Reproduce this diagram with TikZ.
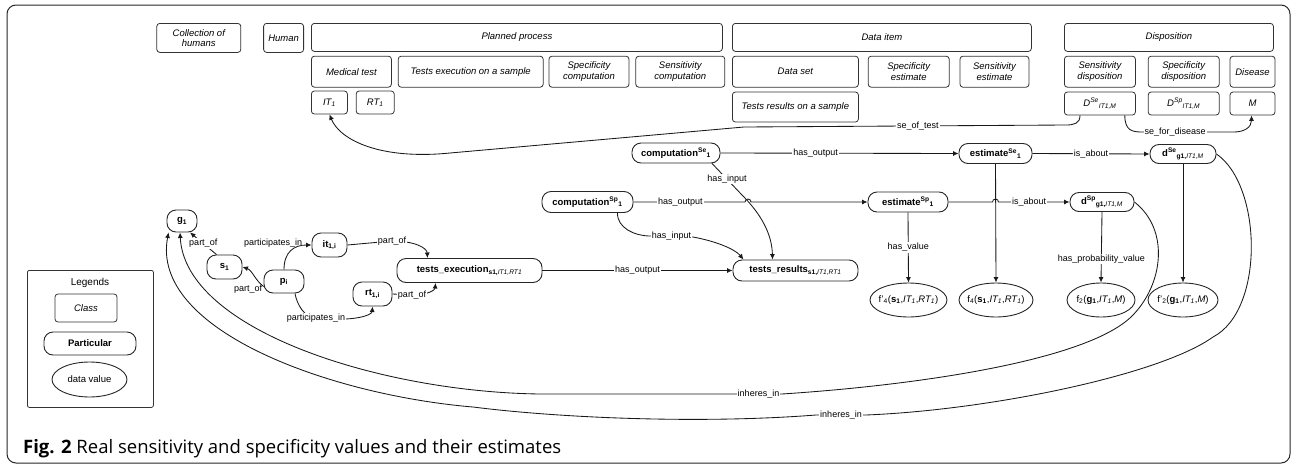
\documentclass[tikz,border=0pt]{standalone}
\usepackage{fontspec}
\setmainfont{Liberation Sans}
\newfontfamily\capfont{Open Sans}
\usepackage{tikz}
\usetikzlibrary{shapes,shapes.geometric,arrows.meta,positioning,calc}

\begin{document}
\begin{tikzpicture}[
    x=1pt, y=1pt,
    font=\fontsize{9.5}{11}\selectfont,
    >={Latex[length=5.5pt,width=5pt]},
    cls/.style={
        draw=black!80,
        rounded corners=3pt,
        minimum width=#1,
        minimum height=29pt,
        align=center,
        inner sep=1pt,
        line width=0.8pt,
        font=\fontsize{9.5}{10.5}\selectfont\itshape
    },
    part/.style={
        draw=black!85,
        rounded corners=9pt,
        minimum width=#1,
        minimum height=21pt,
        inner sep=1pt,
        line width=0.9pt,
        font=\fontsize{9.5}{11}\selectfont\bfseries
    },
    val/.style={
        draw=black!85,
        ellipse,
        minimum width=#1,
        minimum height=34pt,
        inner xsep=-8pt,
        inner ysep=0pt,
        line width=0.9pt
    },
    lbl/.style={fill=white, inner sep=1pt, font=\fontsize{9}{10}\selectfont},
    flow/.style={->, line width=0.85pt, draw=black!90}
]
\useasboundingbox (0,0) rectangle (1293,-469);
\draw[rounded corners=9pt, line width=1pt, black!85] (7,-5) rectangle (1290,-463);

%-----------------------------------
% Classes: planned process
%-----------------------------------
\node[cls=411pt, minimum height=28pt, anchor=north west] (Planned) at (311,-23) {Planned process};
\node[cls=40pt, anchor=north east] (Human) at ([xshift=-7pt]Planned.north west) {Human};
\node[cls=84pt, anchor=north east] (Collection) at ([xshift=-22pt]Human.north west) {Collection of\\humans};

\node[cls=80pt, minimum height=31pt, anchor=north west] (MedTest) at ([yshift=-4pt]Planned.south west) {Medical test};
\node[cls=145pt, minimum height=31pt, anchor=north west] (TestsExec) at ([xshift=6pt]MedTest.north east) {Tests execution on a sample};
\node[cls=80pt, minimum height=31pt, anchor=north west] (SpComp) at ([xshift=5pt]TestsExec.north east) {Specificity\\computation};
\node[cls=89pt, minimum height=31pt, anchor=north west] (SeComp) at ([xshift=6pt]SpComp.north east) {Sensitivity\\computation};

\node[cls=36pt, minimum height=23pt, anchor=north west] (IT) at ([yshift=-3pt]MedTest.south west) {IT\textsubscript{1}};
\node[cls=38pt, minimum height=23pt, anchor=north west] (RT) at ([xshift=8pt]IT.north east) {RT\textsubscript{1}};

%-----------------------------------
% Classes: data item
%-----------------------------------
\node[cls=299pt, minimum height=28pt, anchor=north west] (DataItem) at (732,-23) {Data item};
\node[cls=126pt, minimum height=31pt, anchor=north west] (DataSet) at ([yshift=-4pt]DataItem.south west) {Data set};
\node[cls=81pt, minimum height=31pt, anchor=north west] (SpEst) at ([xshift=9pt]DataSet.north east) {Specificity\\estimate};
\node[cls=69pt, minimum height=31pt, anchor=north west] (SeEst) at ([xshift=10pt]SpEst.north east) {Sensitivity\\estimate};
\node[cls=126pt, minimum height=30pt, anchor=north west] (TestsRes) at ([yshift=-4pt]DataSet.south west) {Tests results on a sample};

%-----------------------------------
% Classes: disposition
%-----------------------------------
\node[cls=209pt, minimum height=28pt, anchor=north west] (Disp) at (1064,-23) {Disposition};
\node[cls=71pt, minimum height=31pt, anchor=north west] (SeDisp) at ([yshift=-4pt]Disp.south west) {Sensitivity\\disposition};
\node[cls=71pt, minimum height=31pt, anchor=north west] (SpDisp) at ([xshift=12pt]SeDisp.north east) {Specificity\\disposition};
\node[cls=45pt, minimum height=31pt, anchor=north west] (Disease) at ([xshift=10pt]SpDisp.north east) {Disease};

\node[cls=71pt, minimum height=23pt, anchor=north west] (DSe) at ([yshift=-4pt]SeDisp.south west) {D\textsuperscript{Se}\textsubscript{IT1,M}};
\node[cls=71pt, minimum height=23pt, anchor=north west] (DSp) at ([yshift=-4pt]SpDisp.south west) {D\textsuperscript{Sp}\textsubscript{IT1,M}};
\node[cls=45pt, minimum height=23pt, anchor=north west] (Mdis) at ([yshift=-4pt]Disease.south west) {M};

%-----------------------------------
% Particulars
%-----------------------------------
\node[part=30pt, minimum height=22pt] (g1) at (182,-221) {g\textsubscript{1}};
\node[part=35pt, minimum height=24pt] (s1) at (224.5,-267) {s\textsubscript{1}};
\node[part=40pt, minimum height=23pt] (pi) at (284,-281.5) {p\textsubscript{i}};
\node[part=35pt, minimum height=24pt] (it1) at (329.5,-245) {it\textsubscript{1,i}};
\node[part=39pt, minimum height=24pt] (rt1) at (372.5,-294) {rt\textsubscript{1,i}};
\node[part=145pt, minimum height=24pt] (texec) at (469.5,-270.5) {tests\_execution\textsubscript{s1,\textit{\mdseries IT1,RT1}}};
\node[part=125pt] (tres) at (795.5,-270.5) {tests\_results\textsubscript{s1,\textit{\mdseries IT1,RT1}}};

\node[part=88pt, minimum height=20pt] (compSe) at (676,-153) {computation\textsuperscript{Se}\textsubscript{1}};
\node[part=91pt] (compSp) at (587.5,-202) {computation\textsuperscript{Sp}\textsubscript{1}};
\node[part=73pt, minimum height=20pt] (estSe) at (995.5,-153.5) {estimate\textsuperscript{Se}\textsubscript{1}};
\node[part=80pt, minimum height=20pt] (estSp) at (908,-202) {estimate\textsuperscript{Sp}\textsubscript{1}};
\node[part=66pt, minimum height=19pt] (dSe) at (1183,-154) {d\textsuperscript{Se}\textsubscript{g1,\textit{\mdseries IT1,M}}};
\node[part=64pt, minimum height=19pt] (dSp) at (1102,-202) {d\textsuperscript{Sp}\textsubscript{g1,\textit{\mdseries IT1,M}}};

%-----------------------------------
% Data values
%-----------------------------------
\node[val=77pt] (fp4) at (908.5,-300) {f'\textsubscript{4}(\textbf{s\textsubscript{1}},\textit{IT\textsubscript{1}},\textit{RT\textsubscript{1}})};
\node[val=74pt] (f4) at (996,-300) {f\textsubscript{4}(\textbf{s\textsubscript{1}},\textit{IT\textsubscript{1}},\textit{RT\textsubscript{1}})};
\node[val=68pt] (f2) at (1101,-300) {f\textsubscript{2}(\textbf{g\textsubscript{1}},\textit{IT\textsubscript{1}},\textit{M})};
\node[val=70pt] (fp2) at (1183,-300) {f'\textsubscript{2}(\textbf{g\textsubscript{1}},\textit{IT\textsubscript{1}},\textit{M})};

%-----------------------------------
% Legend
%-----------------------------------
\node[draw=black!80, rounded corners=2pt, line width=0.8pt, minimum width=126pt, minimum height=137pt, anchor=north west] (Legend) at (27,-270) {};
\node[font=\fontsize{10}{12}\selectfont] (LegTitle) at (90,-283) {Legends};
\node[cls=62pt, minimum height=28pt] (LegClass) at (86,-308) {Class};
\node[part=92pt, minimum height=23pt] (LegPart) at (90,-343.5) {Particular};
\node[val=75pt, minimum height=35pt] (LegVal) at (89.5,-379.5) {data value};

%-----------------------------------
% Arrows between classes
%-----------------------------------
\draw[flow] ([xshift=16pt]DSe.south west) .. controls +(0,-8) and +(8,0) .. (1066,-125)
    -- node[lbl,pos=.46]{se\_of\_test} (744,-127) -- (450,-153)
    .. controls (380,-160) and (340,-140) .. (IT.south);
\draw[flow] ([xshift=-11pt]DSe.south east) .. controls +(0,-15) and +(-10,0) .. (1142,-132)
    -- node[lbl,pos=.36]{se\_for\_disease} (1234,-132)
    .. controls +(10,0) and +(0,-12) .. ([xshift=-1pt]Mdis.south);

%-----------------------------------
% Arrows between particulars
%-----------------------------------
\draw[flow] ([xshift=-8pt]s1.north) -- node[lbl]{part\_of} ([xshift=8pt]g1.south);
\draw[flow] ([yshift=-5pt]pi.west) node[lbl,fill=none,anchor=east,yshift=-3pt]{part\_of}
    .. controls (255,-280) and (252,-270) .. (s1.east);
\draw[flow] (pi.north) .. controls (284,-252) and (294,-245) .. (it1.west)
    node[lbl,fill=none,pos=1,anchor=east,xshift=-8pt,yshift=2pt]{participates\_in};
\draw[flow] ([xshift=11pt]pi.south) .. controls (297,-305) and (305,-318) .. (316,-318)
    node[lbl]{participates\_in} .. controls (355,-322) and (372,-315) .. (rt1.south);
\draw[flow] (it1.east) -- (392,-241) node[lbl]{part\_of}
    .. controls (415,-241) and (427,-248) .. ([xshift=-42pt]texec.north);
\draw[flow] (rt1.east) -- (412,-295) node[lbl]{part\_of}
    .. controls (428,-295) and (435,-290) .. ([xshift=-34pt]texec.south);
\draw[flow] (texec.east) -- node[lbl]{has\_output} (tres.west);

\draw[flow] (compSe.east) -- node[lbl,pos=.4]{has\_output} (estSe.west);
\draw[flow] ([xshift=36pt]compSe.south) -- node[lbl]{has\_input} (742,-195)
    .. controls (762,-215) and (772,-235) .. ([xshift=-23pt]tres.north);
\draw[flow] (compSp.east) -- node[lbl,pos=.42]{has\_output} (745,-202)
    arc[start angle=180, end angle=0, radius=3pt] -- (estSp.west);
\draw[flow] ([xshift=30pt]compSp.south) .. controls (617,-228) and (635,-236) .. (650,-236)
    -- node[lbl]{has\_input} (693,-237)
    .. controls (715,-241) and (735,-249) .. ([xshift=-52pt]tres.north);

\draw[flow] (estSe.east) -- node[lbl]{is\_about} (dSe.west);
\draw[flow] (estSp.east) -- (992.5,-202) arc[start angle=180, end angle=0, radius=3pt]
    -- node[lbl,pos=.43]{is\_about} (dSp.west);

\draw[flow] (estSp.south) -- node[lbl]{has\_value} (fp4.north);
\draw[flow] (estSe.south) -- (f4.north);
\draw[flow] (dSp.south) -- node[lbl,pos=.67]{has\_probability\_value} (f2.north);
\draw[flow] (dSe.south) -- (fp2.north);

\draw[flow] (dSp.east) .. controls (1170,-230) and (1163,-284) .. (1133,-315)
    .. controls (1090,-360) and (920,-385) .. (782,-394)
    -- node[lbl]{inheres\_in} (735,-394)
    -- (540,-394) .. controls (380,-392) and (185,-330) .. ([xshift=-2pt]g1.south);
\draw[flow] (dSe.east) .. controls (1262,-185) and (1265,-310) .. (1213,-337)
    .. controls (1160,-375) and (990,-410) .. (866,-415)
    -- node[lbl]{inheres\_in} (816,-415)
    .. controls (700,-424) and (560,-418) .. (473,-407)
    .. controls (330,-395) and (150,-330) .. ([xshift=2pt]g1.south west);

%-----------------------------------
% Caption
%-----------------------------------
\node[anchor=base west, inner sep=0pt, font=\capfont\fontsize{18.5}{20}\selectfont] (Caption) at (23,-453)
    {\textbf{Fig. 2} Real sensitivity and specificity values and their estimates};

\end{tikzpicture}
\end{document}
